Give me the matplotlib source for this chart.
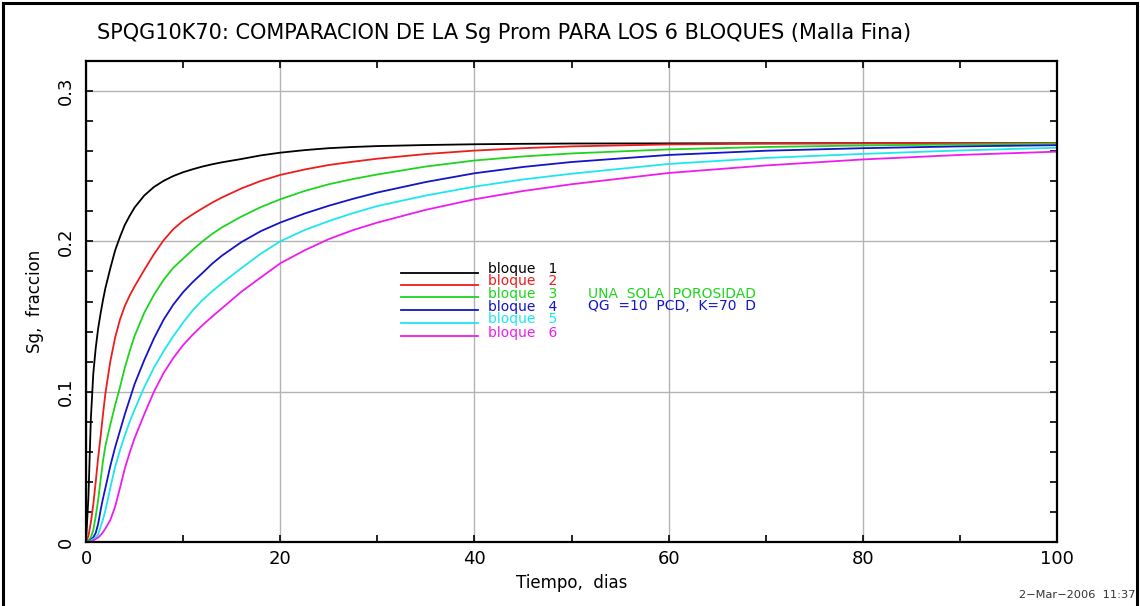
import matplotlib
matplotlib.use("Agg")
import matplotlib.pyplot as plt
from matplotlib.ticker import MultipleLocator
from matplotlib.patches import Rectangle

# ---- data ----
tiempo = [0, 0.25, 0.5, 0.75, 1, 1.25, 1.5, 1.75, 2, 2.5, 3, 3.5, 4, 4.5, 5, 6, 7, 8, 9, 10,
          11, 12, 13, 14, 16, 18, 20, 22.5, 25, 27.5, 30, 35, 40, 45, 50, 60, 70, 80, 90, 100]

bloque1 = [0, 0.030, 0.082, 0.112, 0.129, 0.142, 0.152, 0.161, 0.169, 0.182, 0.194, 0.203,
           0.211, 0.217, 0.2225, 0.2305, 0.2362, 0.2403, 0.2435, 0.246, 0.248, 0.2498, 0.2513,
           0.2526, 0.2548, 0.2572, 0.2590, 0.2607, 0.2620, 0.2628, 0.2634, 0.2641, 0.2646,
           0.2649, 0.2651, 0.2652, 0.2653, 0.2653, 0.2653, 0.2653]
bloque2 = [0, 0.004, 0.013, 0.025, 0.040, 0.056, 0.070, 0.085, 0.099, 0.120, 0.136, 0.148,
           0.157, 0.164, 0.170, 0.181, 0.1915, 0.2008, 0.2082, 0.2137, 0.218, 0.222, 0.2258,
           0.2292, 0.2352, 0.2402, 0.2442, 0.2478, 0.2508, 0.2530, 0.2550, 0.2581, 0.2604,
           0.2620, 0.2632, 0.2645, 0.2650, 0.2652, 0.2653, 0.2654]
bloque3 = [0, 0.001, 0.003, 0.008, 0.017, 0.028, 0.041, 0.054, 0.064, 0.078, 0.091, 0.103,
           0.116, 0.127, 0.137, 0.1525, 0.1645, 0.1745, 0.1825, 0.1885, 0.1945, 0.200, 0.205,
           0.2093, 0.2165, 0.2228, 0.228, 0.2335, 0.238, 0.2415, 0.2445, 0.2498, 0.2538,
           0.2565, 0.2585, 0.2612, 0.2628, 0.2638, 0.2645, 0.265]
bloque4 = [0, 0.0005, 0.0015, 0.003, 0.006, 0.012, 0.021, 0.029, 0.036, 0.0505, 0.063, 0.074,
           0.085, 0.095, 0.105, 0.121, 0.1355, 0.148, 0.158, 0.1662, 0.173, 0.179, 0.1852,
           0.1905, 0.1995, 0.2068, 0.2125, 0.2185, 0.2237, 0.2283, 0.2325, 0.2395, 0.2453,
           0.2495, 0.2528, 0.2575, 0.2603, 0.262, 0.2632, 0.264]
bloque5 = [0, 0.0003, 0.001, 0.002, 0.003, 0.005, 0.010, 0.015, 0.021, 0.036, 0.050, 0.061,
           0.071, 0.080, 0.088, 0.103, 0.116, 0.127, 0.137, 0.146, 0.1542, 0.161, 0.1668,
           0.1722, 0.1822, 0.1918, 0.200, 0.2075, 0.2135, 0.2188, 0.2235, 0.2305, 0.2364,
           0.2412, 0.245, 0.2515, 0.2555, 0.2582, 0.2605, 0.2623]
bloque6 = [0, 0.0002, 0.0005, 0.001, 0.002, 0.003, 0.0045, 0.0065, 0.009, 0.0145, 0.0235,
           0.036, 0.049, 0.0595, 0.069, 0.085, 0.100, 0.1125, 0.1225, 0.131, 0.138, 0.1443,
           0.150, 0.1555, 0.1665, 0.176, 0.1854, 0.194, 0.2015, 0.2075, 0.2125, 0.221, 0.228,
           0.2335, 0.238, 0.2455, 0.2505, 0.2545, 0.2575, 0.2597]

series = [bloque1, bloque2, bloque3, bloque4, bloque5, bloque6]
nombres = ["bloque   1", "bloque   2", "bloque   3", "bloque   4", "bloque   5", "bloque   6"]
colores = ["#000000", "#ee1c1c", "#1ed41e", "#1414c8", "#1ee6ee", "#ee1cee"]
notas = {2: "UNA  SOLA  POROSIDAD", 3: "QG  =10  PCD,  K=70  D"}

titulo = "SPQG10K70: COMPARACION DE LA Sg Prom PARA LOS 6 BLOQUES (Malla Fina)"
xlabel = "Tiempo,  dias"
ylabel = "Sg,  fraccion"
fecha = "2\u2212Mar\u22122006  11:37"

# ---- figure ----
W, H = 1140, 606
fig = plt.figure(figsize=(W / 100, H / 100), dpi=100)
fig.patch.set_facecolor("white")

# outer frame of the original image
fig.add_artist(Rectangle((3 / W, -0.01), 1134 / W, 1 - 3 / H + 0.01, transform=fig.transFigure,
                         fill=False, edgecolor="black", linewidth=2.2))

ax = fig.add_axes([86 / W, 1 - 542 / H, (1057 - 86) / W, (542 - 61) / H])

for s, c in zip(series, colores):
    ax.plot(tiempo, s, color=c, linewidth=1.3)

ax.set_xlim(0, 100)
ax.set_ylim(0, 0.32)
ax.xaxis.set_major_locator(MultipleLocator(20))
ax.xaxis.set_minor_locator(MultipleLocator(10))
ax.yaxis.set_major_locator(MultipleLocator(0.1))
ax.yaxis.set_minor_locator(MultipleLocator(0.02))
ax.grid(True, which="major", color="#b4b4b4", linewidth=1.0)
ax.set_axisbelow(True)
for sp in ax.spines.values():
    sp.set_linewidth(1.6)
ax.tick_params(which="both", direction="in", top=True, right=True, length=5, width=1.2,
               labelsize=13)
ax.tick_params(axis="x", pad=6)
ax.tick_params(axis="y", pad=8)

ax.set_xticks([0, 20, 40, 60, 80, 100])
ax.set_xticklabels(["0", "20", "40", "60", "80", "100"], fontsize=13)
ax.set_yticks([0, 0.1, 0.2, 0.3])
ax.set_yticklabels(["0", "0.1", "0.2", "0.3"], fontsize=13, rotation=90, va="center")

ax.set_xlabel(xlabel, fontsize=12, labelpad=4)
ax.set_ylabel(ylabel, fontsize=12, labelpad=9)

fig.text(97 / W, 1 - 33 / H, titulo, fontsize=15, ha="left", va="center",
         family=["Liberation Sans Narrow", "DejaVu Sans"])

# legend block (drawn in axes fraction)
def fx(px):
    return (px - 86) / (1057 - 86)

def fy(py):
    return (542 - py) / (542 - 61)

ys = [272.7, 284.7, 297.3, 310, 322.7, 336]
for i, (n, c, y) in enumerate(zip(nombres, colores, ys)):
    ax.plot([fx(401), fx(478)], [fy(y), fy(y)], color=c, linewidth=1.3,
            transform=ax.transAxes, clip_on=False)
    ax.text(fx(488), fy(y + 0.5), n, color=c, fontsize=10, ha="left", va="baseline",
            transform=ax.transAxes)
    if i in notas:
        ax.text(fx(588), fy(y + 0.5), notas[i], color=c, fontsize=10, ha="left",
                va="baseline", transform=ax.transAxes)

fig.text(1019 / W, 1 - 595 / H, fecha, fontsize=8.2, ha="left", va="center", color="#333333")

fig.savefig("out.png", dpi=100)
